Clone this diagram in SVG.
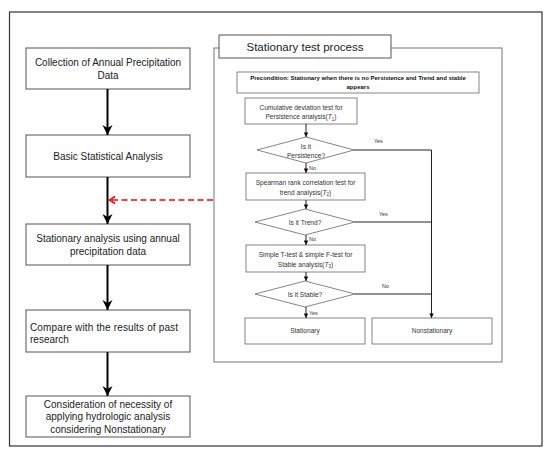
<svg xmlns="http://www.w3.org/2000/svg" width="550" height="457" viewBox="0 0 550 457">
<style>
text{font-family:"Liberation Sans",Arial,sans-serif;fill:#222;text-anchor:middle}
.big{font-size:10px}
.sm{font-size:6.6px;fill:#333}
.lab{font-size:5.4px;fill:#333;text-anchor:start}
.box{fill:#fff;stroke:#555;stroke-width:1}
.ibox{fill:#fff;stroke:#666;stroke-width:0.8}
.main{stroke:#000;stroke-width:2;fill:none}
.thin{stroke:#222;stroke-width:1;fill:none}
</style>
<defs>
<marker id="ah" viewBox="0 0 10 10" refX="10" refY="5" markerWidth="10" markerHeight="11" markerUnits="userSpaceOnUse" orient="auto">
<path d="M0,0 L10,5 L0,10 L3,5 z" fill="#000"/>
</marker>
<marker id="sa" viewBox="0 0 10 10" refX="10" refY="5" markerWidth="5" markerHeight="4.5" markerUnits="userSpaceOnUse" orient="auto">
<path d="M0,0 L10,5 L0,10 z" fill="#111"/>
</marker>
</defs>
<rect width="550" height="457" fill="#fff"/>
<rect x="9.5" y="12" width="532.5" height="434" fill="none" stroke="#333" stroke-width="1.2"/>
<g id="panel">
<rect x="214" y="48" width="288" height="314" fill="none" stroke="#777" stroke-width="1"/>
<rect x="219" y="35" width="172" height="23" class="box"/>
<text x="305" y="50.5" style="font-size:11.5px">Stationary test process</text>
</g>
<g id="n1"><rect x="26" y="48" width="164" height="41" class="box"/>
<text class="big" x="108" y="65.5">Collection of Annual Precipitation</text>
<text class="big" x="108" y="78.5">Data</text></g>
<g id="n2"><rect x="26" y="135" width="164" height="42" class="box"/>
<text class="big" x="108" y="159.5">Basic Statistical Analysis</text></g>
<g id="n3"><rect x="26" y="224" width="164" height="41" class="box"/>
<text class="big" x="108" y="241.5">Stationary analysis using annual</text>
<text class="big" x="108" y="255">precipitation data</text></g>
<g id="n4"><rect x="26" y="310" width="164" height="42" class="box"/>
<text class="big" x="30" y="330.5" style="text-anchor:start;letter-spacing:0.15px">Compare with the results of past</text>
<text class="big" x="30" y="342.5" style="text-anchor:start">research</text></g>
<g id="n5"><rect x="26" y="396" width="164" height="41" class="box"/>
<text class="big" x="108" y="407.5">Consideration of necessity of</text>
<text class="big" x="108" y="420">applying hydrologic analysis</text>
<text class="big" x="108" y="432.5">considering  Nonstationary</text></g>
<g id="pre"><rect x="237" y="72" width="242" height="21" class="ibox"/>
<text x="358" y="79.5" style="font-size:6px;font-weight:bold;fill:#111">Precondition:  Stationary when there is no Persistence and Trend and stable</text>
<text x="358" y="88.5" style="font-size:6px;font-weight:bold;fill:#111">appears</text></g>
<g id="t1"><rect x="245" y="98" width="112" height="26" class="ibox"/>
<text class="sm" x="301" y="109.5">Cumulative  deviation test for</text>
<text class="sm" x="301" y="119">Persistence analysis(<tspan font-style="italic">T</tspan><tspan font-size="4.5px" dy="1.5">1</tspan><tspan dy="-1.5">)</tspan></text></g>
<g id="d1"><polygon points="257,150 306,137 354,150 306,163" class="ibox"/>
<text class="sm" x="306" y="149">Is it</text>
<text class="sm" x="306" y="158">Persistence?</text></g>
<g id="t2"><rect x="246" y="173" width="119" height="27" class="ibox"/>
<text class="sm" x="305.5" y="185">Spearman rank correlation test for</text>
<text class="sm" x="305.5" y="194.5">trend analysis(<tspan font-style="italic">T</tspan><tspan font-size="4.5px" dy="1.5">2</tspan><tspan dy="-1.5">)</tspan></text></g>
<g id="d2"><polygon points="255,222 305,209 355,222 305,235" class="ibox"/>
<text class="sm" x="305" y="224.5">Is it Trend?</text></g>
<g id="t3"><rect x="246" y="245" width="119" height="27" class="ibox"/>
<text class="sm" x="305.5" y="257">Simple T-test &amp; simple F-test for</text>
<text class="sm" x="305.5" y="266.5">Stable analysis(<tspan font-style="italic">T</tspan><tspan font-size="4.5px" dy="1.5">3</tspan><tspan dy="-1.5">)</tspan></text></g>
<g id="d3"><polygon points="255,294 305,281 355,294 305,307" class="ibox"/>
<text class="sm" x="305" y="296.5">Is it Stable?</text></g>
<g id="s"><rect x="245" y="318" width="120" height="26" class="ibox"/>
<text class="sm" x="305" y="333">Stationary</text></g>
<g id="ns"><rect x="372" y="318" width="120" height="26" class="ibox"/>
<text class="sm" x="432" y="333">Nonstationary</text></g>
<g id="connectors">
<line x1="107.5" y1="89" x2="107.5" y2="135" class="main" marker-end="url(#ah)"/>
<line x1="107.5" y1="177" x2="107.5" y2="224" class="main" marker-end="url(#ah)"/>
<line x1="107.5" y1="265" x2="107.5" y2="310" class="main" marker-end="url(#ah)"/>
<line x1="107.5" y1="352" x2="107.5" y2="396" class="main" marker-end="url(#ah)"/>
<line x1="213" y1="200" x2="111" y2="200" stroke="#f00" stroke-width="1.5" stroke-dasharray="6,3.5"/>
<path d="M115,196.5 L109.5,200 L115,203.5" fill="none" stroke="#f00" stroke-width="1.5"/>
<line x1="306" y1="124" x2="306" y2="137" class="thin" marker-end="url(#sa)"/>
<line x1="306" y1="163" x2="306" y2="173" class="thin" marker-end="url(#sa)"/>
<line x1="306" y1="200" x2="306" y2="209" class="thin" marker-end="url(#sa)"/>
<line x1="306" y1="235" x2="306" y2="245" class="thin" marker-end="url(#sa)"/>
<line x1="306" y1="272" x2="306" y2="281" class="thin" marker-end="url(#sa)"/>
<line x1="306" y1="307" x2="306" y2="318" class="thin" marker-end="url(#sa)"/>
<polyline points="354,150 431.5,150 431.5,318" class="thin" marker-end="url(#sa)"/>
<line x1="355" y1="222" x2="431.5" y2="222" class="thin"/>
<line x1="355" y1="294" x2="431.5" y2="294" class="thin"/>
<text class="lab" x="374" y="143">Yes</text>
<text class="lab" x="309" y="169.5">No</text>
<text class="lab" x="379" y="216">Yes</text>
<text class="lab" x="309" y="240.5">No</text>
<text class="lab" x="382" y="287.5">No</text>
<text class="lab" x="309" y="314.5">Yes</text>
</g>
</svg>
